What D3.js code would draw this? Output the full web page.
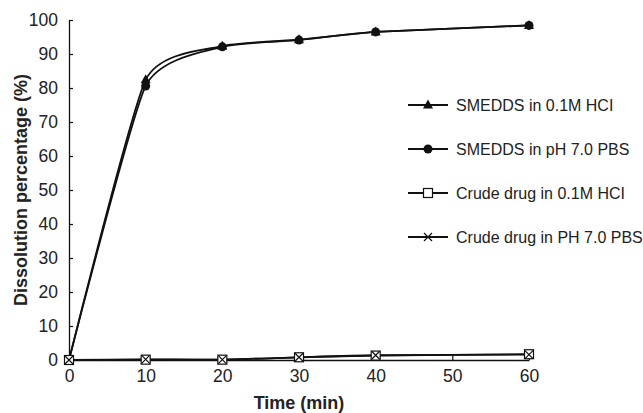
<!DOCTYPE html>
<html>
<head>
<meta charset="utf-8">
<script src="https://cdn.jsdelivr.net/npm/d3@7"></script>
<style>
  html, body { margin: 0; padding: 0; background: #fff; }
  svg { display: block; font-family: "Liberation Sans", Arial, sans-serif; }
</style>
</head>
<body>
<svg id="chart" width="643" height="413"></svg>
<script>
// Sampling times (min)
const times = [0, 10, 20, 30, 40, 60];
// Cumulative dissolution (%) per formulation / medium
const smeddsHcl = [0, 82.4, 92.3, 94.2, 96.5, 98.4];
const smeddsPbs = [0, 80.6, 92.1, 94.1, 96.5, 98.4];
const crudeHcl  = [0, 0.1, 0.1, 0.8, 1.3, 1.7];
const crudePbs  = [0, 0.2, 0.1, 0.8, 1.4, 1.6];
// Series names and marker styles
const seriesNames = ["SMEDDS in 0.1M HCI", "SMEDDS in pH 7.0 PBS", "Crude drug in 0.1M HCI", "Crude drug in PH 7.0 PBS"];
const seriesMarkers = ["triangle", "circle", "square", "cross"];
// Axis ticks
const xTicks = [0, 10, 20, 30, 40, 50, 60];
const yTicks = [0, 10, 20, 30, 40, 50, 60, 70, 80, 90, 100];

const seriesValues = [smeddsHcl, smeddsPbs, crudeHcl, crudePbs];
const series = seriesNames.map((name, i) => ({
  name, marker: seriesMarkers[i],
  points: times.map((t, j) => ({ t, v: seriesValues[i][j] }))
}));

const svg = d3.select("#chart");
const ink = "#111";
const textInk = "#222";

const x = d3.scaleLinear().domain([0, 60]).range([69, 529]);
const y = d3.scaleLinear().domain([0, 100]).range([360, 20]);

// Axes with inward ticks
const xAxis = svg.append("g").attr("transform", "translate(0,360)")
  .call(d3.axisBottom(x).tickValues(xTicks).tickSizeInner(-4).tickSizeOuter(0).tickPadding(10));
const yAxis = svg.append("g").attr("transform", "translate(69,0)")
  .call(d3.axisLeft(y).tickValues(yTicks).tickSizeInner(-4).tickSizeOuter(0).tickPadding(11));

[xAxis, yAxis].forEach(g => {
  g.select(".domain").attr("stroke", ink).attr("stroke-width", 1.3);
  g.selectAll(".tick line").attr("stroke", ink).attr("stroke-width", 1.2);
  g.selectAll(".tick text").attr("fill", textInk)
    .style("font-size", "17.5px").style("font-family", "Liberation Sans, Arial, sans-serif");
});
xAxis.selectAll(".tick text").attr("dy", "0.71em").attr("y", 10);

// Axis titles
svg.append("text").attr("x", 299).attr("y", 409).attr("text-anchor", "middle")
  .attr("fill", textInk).style("font-size", "18px").style("font-weight", "bold")
  .text("Time (min)");
svg.append("text").attr("transform", "translate(27,190) rotate(-90)").attr("text-anchor", "middle")
  .attr("fill", textInk).style("font-size", "18px").style("font-weight", "bold")
  .text("Dissolution percentage (%)");

// Smoothed series lines (cardinal spline with moderate tension)
const line = d3.line().x(d => x(d.t)).y(d => y(d.v)).curve(d3.curveCardinal.tension(0.45));

function drawMarker(g, type, cx, cy) {
  if (type === "triangle") {
    g.append("path").attr("d", `M${cx},${cy - 5.5}L${cx + 5},${cy + 3.5}L${cx - 5},${cy + 3.5}Z`).attr("fill", ink);
  } else if (type === "circle") {
    g.append("circle").attr("cx", cx).attr("cy", cy).attr("r", 4.5).attr("fill", ink);
  } else if (type === "square") {
    g.append("rect").attr("x", cx - 4.5).attr("y", cy - 4.5).attr("width", 9).attr("height", 9)
      .attr("fill", "#fff").attr("stroke", ink).attr("stroke-width", 1.2);
  } else if (type === "cross") {
    g.append("path").attr("d", `M${cx - 4},${cy - 4}L${cx + 4},${cy + 4}M${cx - 4},${cy + 4}L${cx + 4},${cy - 4}`)
      .attr("stroke", ink).attr("stroke-width", 1.2).attr("fill", "none");
  }
}

const plot = svg.append("g");
series.forEach(s => {
  plot.append("path").datum(s.points).attr("d", line)
    .attr("fill", "none").attr("stroke", ink).attr("stroke-width", 1.8);
});
series.forEach(s => {
  const g = plot.append("g");
  s.points.forEach(p => drawMarker(g, s.marker, x(p.t), y(p.v)));
});

// Legend
const legend = svg.append("g");
series.forEach((s, i) => {
  const ly = 105 + i * 44;
  const row = legend.append("g");
  row.append("line").attr("x1", 408).attr("x2", 448).attr("y1", ly).attr("y2", ly)
    .attr("stroke", ink).attr("stroke-width", 2);
  drawMarker(row, s.marker, 428, ly);
  row.append("text").attr("x", 456).attr("y", ly).attr("dy", "0.35em")
    .attr("fill", textInk).style("font-size", "16px").text(s.name);
});
</script>
</body>
</html>
